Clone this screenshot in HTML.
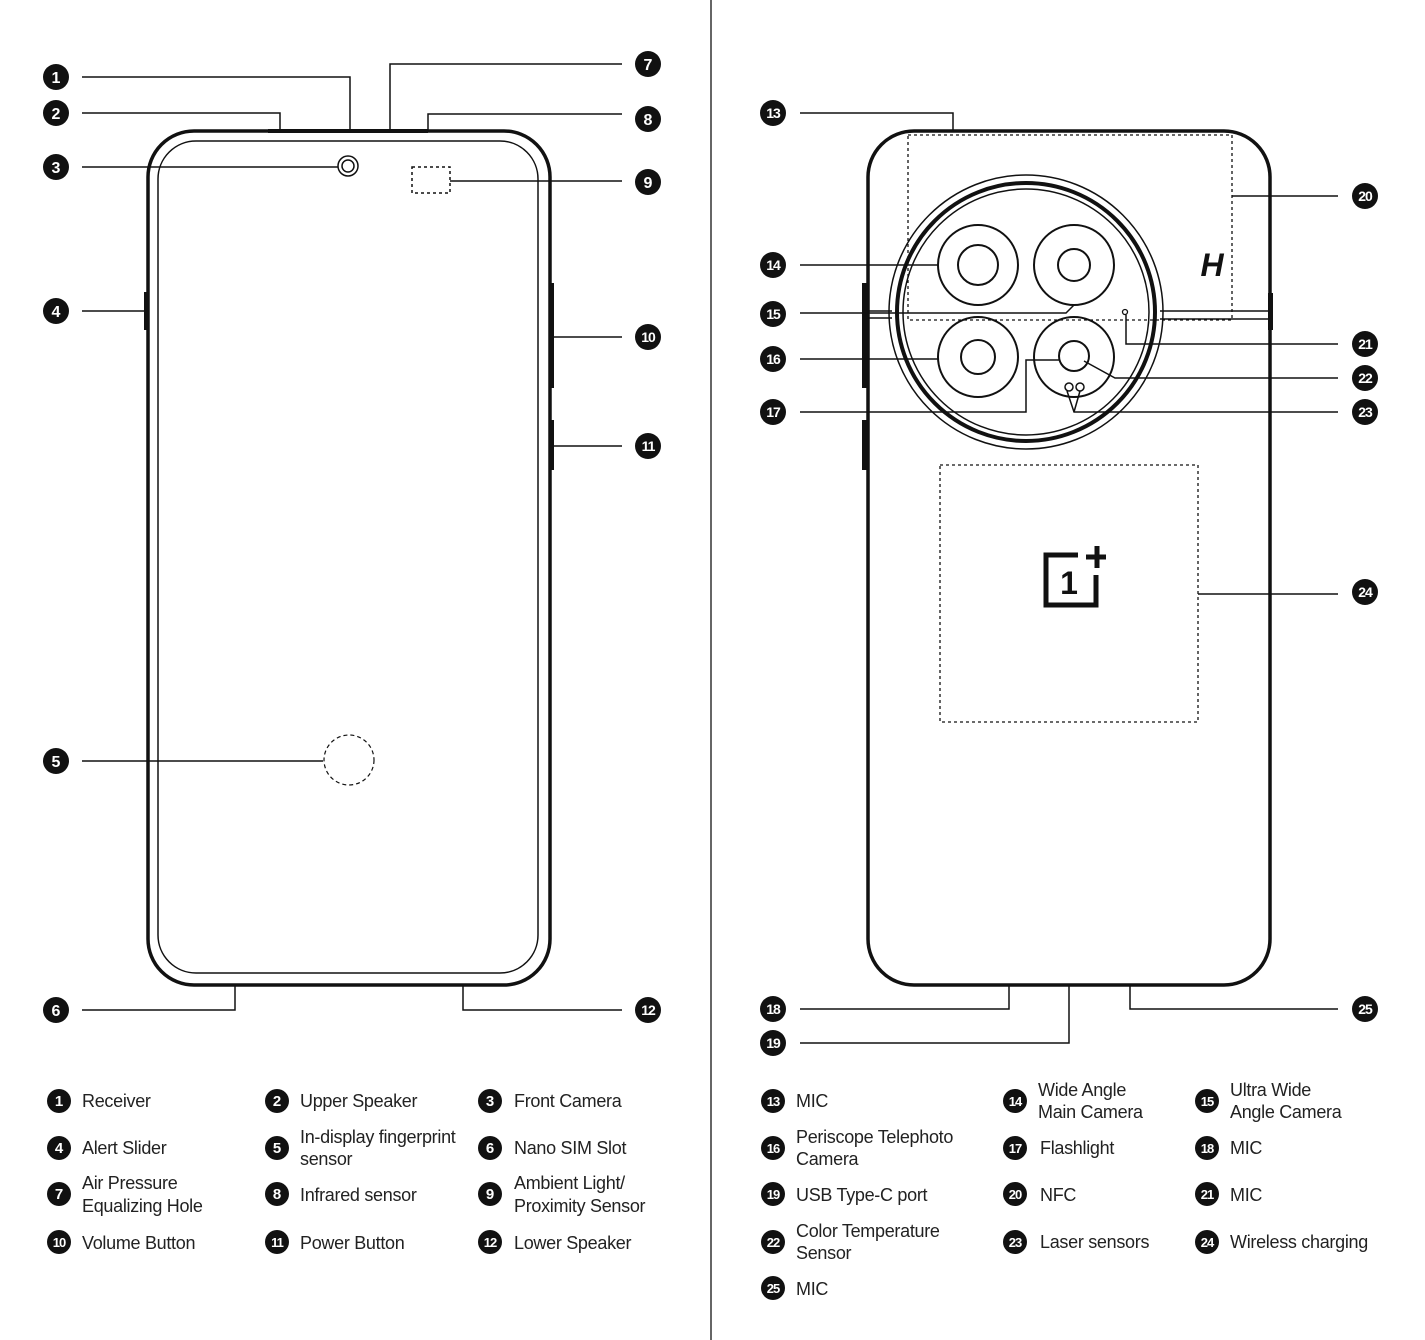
<!DOCTYPE html>
<html><head><meta charset="utf-8"><style>
html,body{margin:0;padding:0;background:#fff;}
svg{display:block;}
.b text{font-family:"Liberation Sans",sans-serif;font-weight:bold;fill:#fff;text-anchor:middle;}
.t{font-family:"Liberation Sans",sans-serif;font-size:18px;fill:#222;letter-spacing:-0.3px;}
</style></head><body>
<svg width="1425" height="1340" viewBox="0 0 1425 1340" xmlns="http://www.w3.org/2000/svg">
<defs>
<g id="bd"><circle r="13" fill="#111"/></g>
</defs>
<line x1="711" y1="0" x2="711" y2="1340" stroke="#333" stroke-width="1.5"/>

<!-- FRONT PHONE -->
<g fill="none" stroke="#111">
<rect x="148" y="131" width="402" height="854" rx="46" stroke-width="3.5"/>
<rect x="158" y="141" width="380" height="832" rx="38" stroke-width="1.5"/>
<rect x="144" y="292" width="4" height="38" fill="#111" stroke="none"/>
<rect x="550" y="283" width="4" height="105" fill="#111" stroke="none"/>
<rect x="550" y="420" width="4" height="50" fill="#111" stroke="none"/>
<rect x="268" y="129" width="160" height="4" fill="#111" stroke="none"/>
<circle cx="348" cy="166" r="10" stroke-width="1.5"/><circle cx="348" cy="166" r="6" stroke-width="1.5"/>
<rect x="412" y="167" width="38" height="26" stroke-width="1.5" stroke-dasharray="3,3"/>
<circle cx="349" cy="760" r="25" stroke-width="1.2" stroke-dasharray="4,3"/>
<g stroke-width="1.5">
<polyline points="82,77 350,77 350,131"/>
<polyline points="82,113 280,113 280,131"/>
<line x1="82" y1="167" x2="338" y2="167"/>
<line x1="82" y1="311" x2="144" y2="311"/>
<line x1="82" y1="761" x2="323" y2="761"/>
<polyline points="82,1010 235,1010 235,985"/>
<polyline points="622,64 390,64 390,131"/>
<polyline points="622,114 428,114 428,131"/>
<line x1="450" y1="181" x2="622" y2="181"/>
<line x1="554" y1="337" x2="622" y2="337"/>
<line x1="554" y1="446" x2="622" y2="446"/>
<polyline points="622,1010 463,1010 463,985"/>
</g>
</g>

<!-- BACK PHONE -->
<g fill="none" stroke="#111">
<rect x="868" y="131" width="402" height="854" rx="46" stroke-width="3.5"/>
<rect x="862" y="283" width="5" height="105" fill="#111" stroke="none"/>
<rect x="862" y="420" width="5" height="50" fill="#111" stroke="none"/>
<rect x="1268" y="293" width="5" height="37" fill="#111" stroke="none"/>
<rect x="908" y="135" width="324" height="185" stroke-width="1.3" stroke-dasharray="3,3"/>
<line x1="868" y1="311" x2="892" y2="311" stroke-width="1.5"/><line x1="868" y1="318" x2="892" y2="318" stroke-width="1.5"/>
<line x1="1160" y1="311" x2="1268" y2="311" stroke-width="1.5"/><line x1="1160" y1="319" x2="1268" y2="319" stroke-width="1.5"/>
<circle cx="1026" cy="312" r="137" stroke-width="1.5"/>
<circle cx="1026" cy="312" r="129" stroke-width="4"/>
<circle cx="1026" cy="312" r="123" stroke-width="1.5"/>
<g stroke-width="2">
<circle cx="978" cy="265" r="40"/><circle cx="978" cy="265" r="20"/>
<circle cx="1074" cy="265" r="40"/><circle cx="1074" cy="265" r="16"/>
<circle cx="978" cy="357" r="40"/><circle cx="978" cy="357" r="17"/>
<circle cx="1074" cy="357" r="40"/><circle cx="1074" cy="356" r="15"/>
</g>
<circle cx="1125" cy="312" r="2.5" stroke-width="1.3"/>
<circle cx="1069" cy="387" r="4" stroke-width="1.5"/><circle cx="1080" cy="387" r="4" stroke-width="1.5"/>
<rect x="940" y="465" width="258" height="257" stroke-width="1.3" stroke-dasharray="3,3"/>
<g stroke-width="1.5">
<polyline points="800,113 953,113 953,131"/>
<line x1="1232" y1="196" x2="1338" y2="196"/>
<line x1="800" y1="265" x2="938" y2="265"/>
<polyline points="800,313 1066,313 1074,305"/>
<line x1="800" y1="359" x2="938" y2="359"/>
<polyline points="800,412 1026,412 1026,360 1060,360"/>
<polyline points="1338,344 1126,344 1126,315"/>
<polyline points="1338,378 1115,378 1084,361"/>
<polyline points="1338,412 1074,412 1067,391"/><line x1="1074" y1="412" x2="1080" y2="391"/>
<line x1="1198" y1="594" x2="1338" y2="594"/>
<polyline points="800,1009 1009,1009 1009,985"/>
<polyline points="800,1043 1069,1043 1069,985"/>
<polyline points="1338,1009 1130,1009 1130,985"/>
</g>
</g>
<text x="1212" y="276" font-family="Liberation Sans,sans-serif" font-weight="bold" font-style="italic" font-size="32" text-anchor="middle" fill="#111">H</text>
<!-- OnePlus logo -->
<g fill="none" stroke="#111" stroke-width="5">
<polyline points="1078,555 1046,555 1046,605 1096,605 1096,575"/>
<line x1="1097" y1="546" x2="1097" y2="568"/><line x1="1086" y1="557" x2="1106" y2="557"/>
</g>
<text x="1069" y="594" font-family="Liberation Sans,sans-serif" font-weight="bold" font-size="32" text-anchor="middle" fill="#111">1</text>

<!-- diagram badges -->
<g class="b">
<g transform="translate(56,77)"><use href="#bd"/><text y="6" font-size="16">1</text></g>
<g transform="translate(56,113)"><use href="#bd"/><text y="6" font-size="16">2</text></g>
<g transform="translate(56,167)"><use href="#bd"/><text y="6" font-size="16">3</text></g>
<g transform="translate(56,311)"><use href="#bd"/><text y="6" font-size="16">4</text></g>
<g transform="translate(56,761)"><use href="#bd"/><text y="6" font-size="16">5</text></g>
<g transform="translate(56,1010)"><use href="#bd"/><text y="6" font-size="16">6</text></g>
<g transform="translate(648,64)"><use href="#bd"/><text y="6" font-size="16">7</text></g>
<g transform="translate(648,119)"><use href="#bd"/><text y="6" font-size="16">8</text></g>
<g transform="translate(648,182)"><use href="#bd"/><text y="6" font-size="16">9</text></g>
<g transform="translate(648,337)"><use href="#bd"/><text y="5" font-size="14" letter-spacing="-1">10</text></g>
<g transform="translate(648,446)"><use href="#bd"/><text y="5" font-size="14" letter-spacing="-1">11</text></g>
<g transform="translate(648,1010)"><use href="#bd"/><text y="5" font-size="14" letter-spacing="-1">12</text></g>
<g transform="translate(773,113)"><use href="#bd"/><text y="5" font-size="14" letter-spacing="-1">13</text></g>
<g transform="translate(773,265)"><use href="#bd"/><text y="5" font-size="14" letter-spacing="-1">14</text></g>
<g transform="translate(773,314)"><use href="#bd"/><text y="5" font-size="14" letter-spacing="-1">15</text></g>
<g transform="translate(773,359)"><use href="#bd"/><text y="5" font-size="14" letter-spacing="-1">16</text></g>
<g transform="translate(773,412)"><use href="#bd"/><text y="5" font-size="14" letter-spacing="-1">17</text></g>
<g transform="translate(773,1009)"><use href="#bd"/><text y="5" font-size="14" letter-spacing="-1">18</text></g>
<g transform="translate(773,1043)"><use href="#bd"/><text y="5" font-size="14" letter-spacing="-1">19</text></g>
<g transform="translate(1365,196)"><use href="#bd"/><text y="5" font-size="14" letter-spacing="-1">20</text></g>
<g transform="translate(1365,344)"><use href="#bd"/><text y="5" font-size="14" letter-spacing="-1">21</text></g>
<g transform="translate(1365,378)"><use href="#bd"/><text y="5" font-size="14" letter-spacing="-1">22</text></g>
<g transform="translate(1365,412)"><use href="#bd"/><text y="5" font-size="14" letter-spacing="-1">23</text></g>
<g transform="translate(1365,592)"><use href="#bd"/><text y="5" font-size="14" letter-spacing="-1">24</text></g>
<g transform="translate(1365,1009)"><use href="#bd"/><text y="5" font-size="14" letter-spacing="-1">25</text></g>
</g>

<!-- legend badges -->
<g class="b">
<g transform="translate(59,1101)"><circle r="12" fill="#111"/><text y="5" font-size="15">1</text></g>
<g transform="translate(277,1101)"><circle r="12" fill="#111"/><text y="5" font-size="15">2</text></g>
<g transform="translate(490,1101)"><circle r="12" fill="#111"/><text y="5" font-size="15">3</text></g>
<g transform="translate(59,1148)"><circle r="12" fill="#111"/><text y="5" font-size="15">4</text></g>
<g transform="translate(277,1148)"><circle r="12" fill="#111"/><text y="5" font-size="15">5</text></g>
<g transform="translate(490,1148)"><circle r="12" fill="#111"/><text y="5" font-size="15">6</text></g>
<g transform="translate(59,1194)"><circle r="12" fill="#111"/><text y="5" font-size="15">7</text></g>
<g transform="translate(277,1194)"><circle r="12" fill="#111"/><text y="5" font-size="15">8</text></g>
<g transform="translate(490,1194)"><circle r="12" fill="#111"/><text y="5" font-size="15">9</text></g>
<g transform="translate(59,1242)"><circle r="12" fill="#111"/><text y="5" font-size="13" letter-spacing="-1">10</text></g>
<g transform="translate(277,1242)"><circle r="12" fill="#111"/><text y="5" font-size="13" letter-spacing="-1">11</text></g>
<g transform="translate(490,1242)"><circle r="12" fill="#111"/><text y="5" font-size="13" letter-spacing="-1">12</text></g>
<g transform="translate(773,1101)"><circle r="12" fill="#111"/><text y="5" font-size="13" letter-spacing="-1">13</text></g>
<g transform="translate(1015,1101)"><circle r="12" fill="#111"/><text y="5" font-size="13" letter-spacing="-1">14</text></g>
<g transform="translate(1207,1101)"><circle r="12" fill="#111"/><text y="5" font-size="13" letter-spacing="-1">15</text></g>
<g transform="translate(773,1148)"><circle r="12" fill="#111"/><text y="5" font-size="13" letter-spacing="-1">16</text></g>
<g transform="translate(1015,1148)"><circle r="12" fill="#111"/><text y="5" font-size="13" letter-spacing="-1">17</text></g>
<g transform="translate(1207,1148)"><circle r="12" fill="#111"/><text y="5" font-size="13" letter-spacing="-1">18</text></g>
<g transform="translate(773,1194)"><circle r="12" fill="#111"/><text y="5" font-size="13" letter-spacing="-1">19</text></g>
<g transform="translate(1015,1194)"><circle r="12" fill="#111"/><text y="5" font-size="13" letter-spacing="-1">20</text></g>
<g transform="translate(1207,1194)"><circle r="12" fill="#111"/><text y="5" font-size="13" letter-spacing="-1">21</text></g>
<g transform="translate(773,1242)"><circle r="12" fill="#111"/><text y="5" font-size="13" letter-spacing="-1">22</text></g>
<g transform="translate(1015,1242)"><circle r="12" fill="#111"/><text y="5" font-size="13" letter-spacing="-1">23</text></g>
<g transform="translate(1207,1242)"><circle r="12" fill="#111"/><text y="5" font-size="13" letter-spacing="-1">24</text></g>
<g transform="translate(773,1288)"><circle r="12" fill="#111"/><text y="5" font-size="13" letter-spacing="-1">25</text></g>
</g>

<!-- legend text -->
<g class="t">
<text x="82" y="1107">Receiver</text>
<text x="300" y="1107">Upper Speaker</text>
<text x="514" y="1107">Front Camera</text>
<text x="82" y="1154">Alert Slider</text>
<text x="300" y="1143">In-display fingerprint</text><text x="300" y="1165">sensor</text>
<text x="514" y="1154">Nano SIM Slot</text>
<text x="82" y="1189">Air Pressure</text><text x="82" y="1212">Equalizing Hole</text>
<text x="300" y="1201">Infrared sensor</text>
<text x="514" y="1189">Ambient Light/</text><text x="514" y="1212">Proximity Sensor</text>
<text x="82" y="1249">Volume Button</text>
<text x="300" y="1249">Power Button</text>
<text x="514" y="1249">Lower Speaker</text>

<text x="796" y="1107">MIC</text>
<text x="1038" y="1096">Wide Angle</text><text x="1038" y="1118">Main Camera</text>
<text x="1230" y="1096">Ultra Wide</text><text x="1230" y="1118">Angle Camera</text>
<text x="796" y="1143">Periscope Telephoto</text><text x="796" y="1165">Camera</text>
<text x="1040" y="1154">Flashlight</text>
<text x="1230" y="1154">MIC</text>
<text x="796" y="1201">USB Type-C port</text>
<text x="1040" y="1201">NFC</text>
<text x="1230" y="1201">MIC</text>
<text x="796" y="1237">Color Temperature</text><text x="796" y="1259">Sensor</text>
<text x="1040" y="1248">Laser sensors</text>
<text x="1230" y="1248">Wireless charging</text>
<text x="796" y="1295">MIC</text>
</g>
</svg>
</body></html>
